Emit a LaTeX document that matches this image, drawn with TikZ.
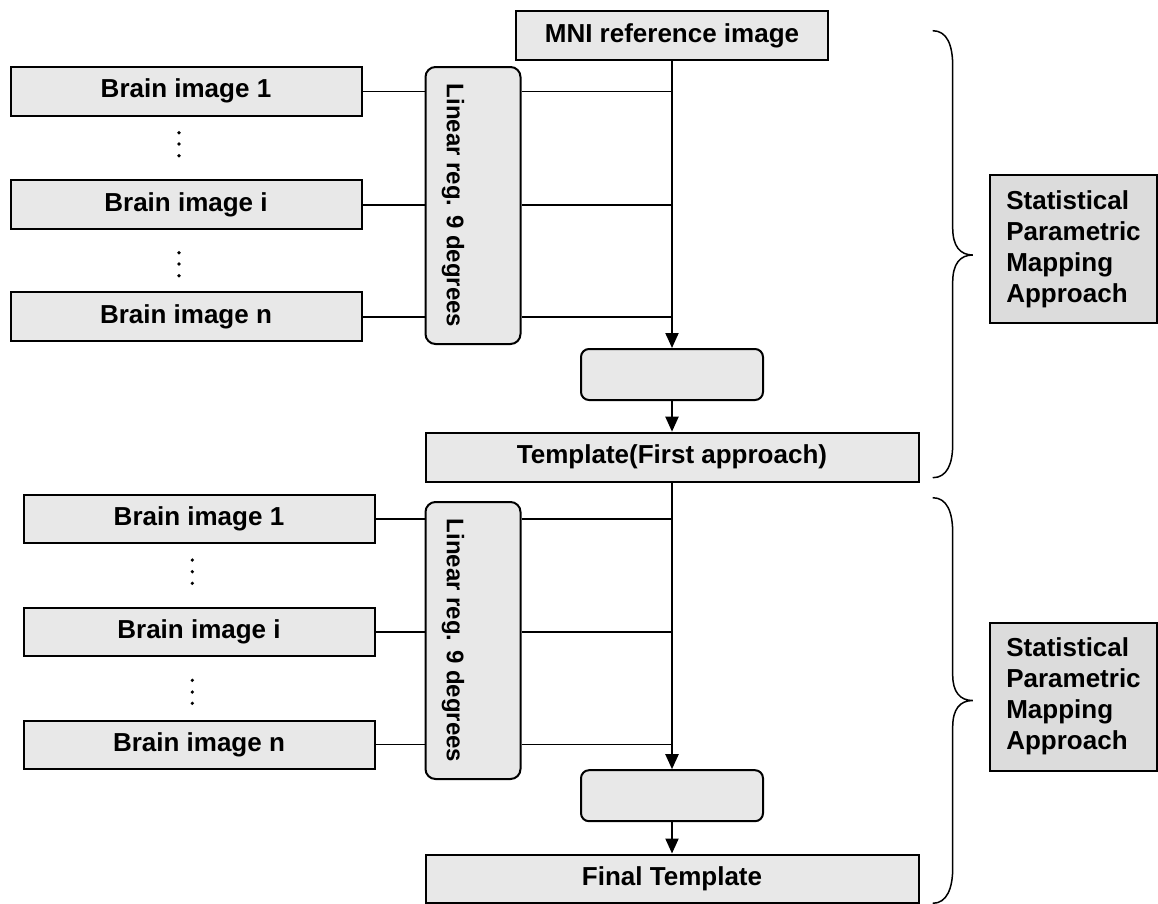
\documentclass[tikz,border=0pt]{standalone}
\usepackage{fontspec}
\setmainfont{Liberation Sans}
\usetikzlibrary{arrows.meta}
\definecolor{boxgray}{HTML}{E8E8E8}
\definecolor{spmgray}{HTML}{DCDCDC}
\begin{document}
\begin{tikzpicture}[x=1pt,y=-1pt,
  every node/.style={font=\fontsize{26}{31}\selectfont\bfseries, inner sep=0pt},
  plainbox/.style={draw=black, line width=2pt, fill=boxgray, minimum height=49pt},
  imgbox/.style={plainbox, minimum width=351pt},
  widebox/.style={plainbox, minimum width=493pt},
  regbox/.style={draw=black, line width=2pt, fill=boxgray, rounded corners=10pt,
                 minimum width=95pt, minimum height=277pt},
  regtext/.style={rotate=-90, font=\fontsize{24}{28}\selectfont\bfseries},
  midbox/.style={draw=black, line width=2pt, fill=boxgray, rounded corners=8pt,
                 minimum width=182pt, minimum height=51pt},
  spmbox/.style={draw=black, line width=2pt, fill=spmgray, align=left,
                 minimum width=167pt, minimum height=148pt},
  link/.style={line width=1.6pt},
  flow/.style={line width=2pt, -{Triangle[length=15pt,width=13pt]}},
  bracket/.style={line width=1.5pt},
  dot/.style={fill=black}
]
\useasboundingbox (0,0) rectangle (1158,903);

% ---- first registration stage ----
\node[plainbox, minimum width=312pt] (mni) at (672,35.5) {MNI reference image};
\node[imgbox] (a1) at (186,91.3)  {Brain image 1};
\node[imgbox] (ai) at (186,204.7) {Brain image i};
\node[imgbox] (an) at (186,316.7) {Brain image n};
\node[regbox] (regA) at (473,205.5) {};
\node[regtext] (regAt) at (453,205.5) {Linear reg. 9 degrees};
\node[midbox] (midA) at (672,374.5) {};
\node[widebox] (tplA) at (672,457.2) {Template(First approach)};
\node[spmbox] (spmA) at (1073.5,248.8) {Statistical\\Parametric\\Mapping\\Approach};

\foreach \y in {132.7,144,155.7,252.7,264,275.7}
  \fill[dot] (179,\y) circle (1.8);

\foreach \b in {a1,ai,an}{
  \draw[link] (\b.east) -- (\b.east -| regA.west);
  \draw[link] (\b.east -| regA.east) -- (\b.east -| mni.south);
}
\draw[flow] (mni.south) -- (midA.north);
\draw[flow] (midA.south) -- (tplA.north);

\draw[bracket] (932.7,30.7) .. controls (947,30.7) and (952.7,45) .. (952.7,66)
  -- (952.7,228) .. controls (952.7,246) and (960,255) .. (972.7,255)
  .. controls (960,255) and (952.7,264) .. (952.7,282)
  -- (952.7,444) .. controls (952.7,464) and (947,477.7) .. (932.7,477.7);

% ---- second registration stage ----
\node[imgbox, minimum height=48pt] (b1) at (199,519.2) {Brain image 1};
\node[imgbox, minimum height=48pt] (bi) at (199,632.2) {Brain image i};
\node[imgbox, minimum height=48pt] (bn) at (199,744.5) {Brain image n};
\node[regbox] (regB) at (473,640.5) {};
\node[regtext] (regBt) at (453,640.5) {Linear reg. 9 degrees};
\node[midbox] (midB) at (672,795.7) {};
\node[widebox, minimum height=48pt] (final) at (672,878.5) {Final Template};
\node[spmbox] (spmB) at (1073.5,696.5) {Statistical\\Parametric\\Mapping\\Approach};

\foreach \y in {560,571.7,583.3,680.3,692,703.3}
  \fill[dot] (192.3,\y) circle (1.8);

\foreach \b in {b1,bi,bn}{
  \draw[link] (\b.east) -- (\b.east -| regB.west);
  \draw[link] (\b.east -| regB.east) -- (\b.east -| tplA.south);
}
\draw[flow] (tplA.south) -- (midB.north);
\draw[flow] (midB.south) -- (final.north);

\draw[bracket] (932.7,497.7) .. controls (947,497.7) and (952.7,512) .. (952.7,533)
  -- (952.7,675) .. controls (952.7,692) and (960,700.5) .. (972.7,700.5)
  .. controls (960,700.5) and (952.7,709) .. (952.7,727)
  -- (952.7,868) .. controls (952.7,888) and (947,903.3) .. (932.7,903.3);
\end{tikzpicture}
\end{document}
